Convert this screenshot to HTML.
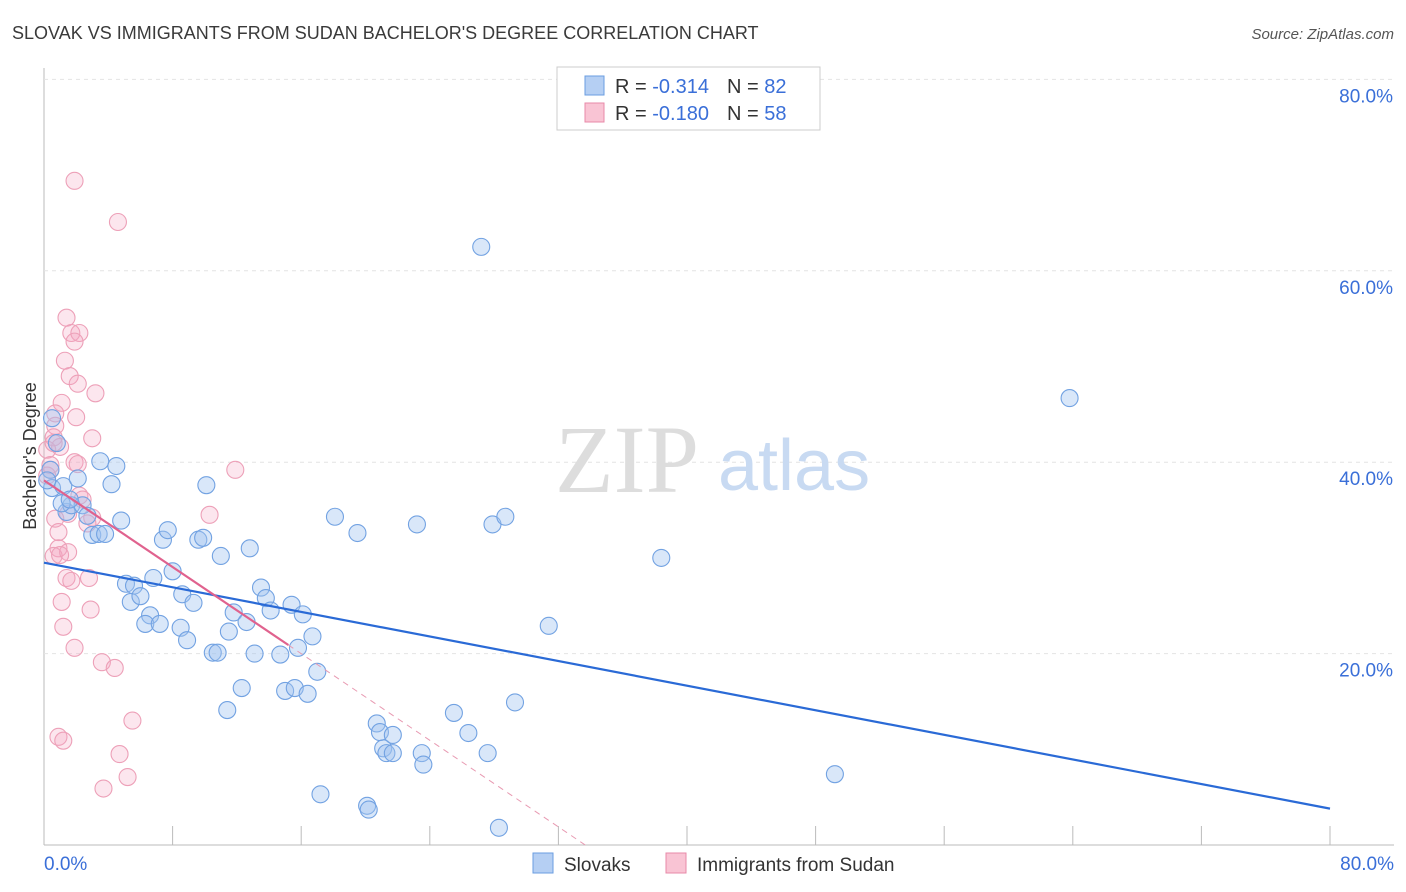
<!DOCTYPE html>
<html><head><meta charset="utf-8"><style>
body{margin:0;background:#fff;font-family:"Liberation Sans",sans-serif}
svg{display:block}
</style></head><body>
<svg id="c" width="1406" height="892">
<text x="12" y="39" font-size="18" fill="#3a3a3a">SLOVAK VS IMMIGRANTS FROM SUDAN BACHELOR'S DEGREE CORRELATION CHART</text>
<text x="1394" y="39" font-size="15" fill="#555" font-style="italic" text-anchor="end">Source: ZipAtlas.com</text>
<text x="36" y="456" font-size="18" fill="#333" transform="rotate(-90 36 456)" text-anchor="middle">Bachelor's Degree</text>
<g id="grid"></g>
<text x="555" y="492" font-size="96" fill="#ddd" font-family="Liberation Serif">ZIP</text>
<text x="718" y="490" font-size="72" fill="#c8daf2">atlas</text>
<g id="pts"></g>
<g id="lines"></g>
<g>
<rect x="557" y="67" width="263" height="63" fill="#fff" stroke="#ccc"/>
<rect x="585" y="76" width="19" height="19" fill="#b5cff3" stroke="#6a9de0"/>
<rect x="585" y="103" width="19" height="19" fill="#f9c4d4" stroke="#e88aa8"/>
<text x="615" y="93" font-size="20" fill="#333">R = <tspan fill="#3a6fd8">-0.314</tspan><tspan dx="18">N = </tspan><tspan fill="#3a6fd8">82</tspan></text>
<text x="615" y="120" font-size="20" fill="#333">R = <tspan fill="#3a6fd8">-0.180</tspan><tspan dx="18">N = </tspan><tspan fill="#3a6fd8">58</tspan></text>
</g>
<g>
<rect x="533" y="853" width="20" height="20" fill="#b5cff3" stroke="#6a9de0"/>
<text x="564" y="871" font-size="19" fill="#333">Slovaks</text>
<rect x="666" y="853" width="20" height="20" fill="#f9c4d4" stroke="#e88aa8"/>
<text x="697" y="871" font-size="19" fill="#333">Immigrants from Sudan</text>
</g>
</svg>
<script>
const blueX=[0.5,0.8,0.4,0.5,1.2,2.1,1.4,1.7,2.4,2.7,3.0,3.4,3.5,4.5,4.2,4.8,3.8,5.1,5.6,5.4,6.0,6.8,6.6,6.3,7.2,7.4,7.7,8.0,8.6,8.5,8.9,9.3,9.6,9.9,10.1,11.0,10.5,10.8,11.5,11.4,11.8,12.3,12.6,12.8,13.1,13.5,13.8,14.1,14.7,15.0,15.4,15.6,16.1,15.8,16.4,16.7,17.0,17.2,18.1,19.5,20.7,20.9,21.1,21.3,21.7,21.7,20.1,20.2,23.2,23.5,23.6,25.5,26.4,27.6,27.9,28.7,28.3,29.3,31.4,27.2,38.4,49.2,63.8,1.1,0.2,1.6];
const blueY=[44.6,42.0,39.2,37.3,37.5,38.3,34.8,35.5,35.5,34.4,32.4,32.5,40.1,39.6,37.7,33.9,32.5,27.3,27.1,25.4,26.0,27.9,24.0,23.1,23.1,31.9,32.9,28.6,26.2,22.7,21.4,25.3,31.9,32.1,37.6,30.2,20.1,20.1,22.3,14.1,24.3,16.4,23.3,31.0,20.0,26.9,25.8,24.5,19.9,16.1,25.1,16.4,24.1,20.6,15.8,21.8,18.1,5.3,34.3,32.6,12.7,11.8,10.1,9.6,11.5,9.6,4.1,3.7,33.5,9.6,8.4,13.8,11.7,9.6,33.5,34.3,1.8,14.9,22.9,62.5,30.0,7.4,46.7,35.7,38.1,36.1];
const pinkX=[1.9,4.6,1.4,1.7,2.2,1.9,1.3,1.6,2.1,3.2,1.1,0.7,2.0,0.7,0.6,3.0,1.0,0.2,1.9,2.1,0.4,0.2,11.9,2.2,2.4,1.5,3.0,10.3,0.7,0.9,2.7,0.9,0.6,1.5,1.0,1.4,1.7,2.8,1.1,2.9,1.2,1.9,3.6,4.4,5.5,0.9,1.2,4.7,5.2,3.7,0.6,0.4];
const pinkY=[69.4,65.1,55.1,53.5,53.5,52.6,50.6,49.0,48.2,47.2,46.2,45.1,44.7,43.8,42.6,42.5,41.6,41.3,40.0,39.8,39.2,38.6,39.2,36.5,36.1,34.6,34.2,34.5,34.1,32.7,33.6,31.0,30.2,30.6,30.3,27.9,27.6,27.9,25.4,24.6,22.8,20.6,19.1,18.5,13.0,11.3,10.9,9.5,7.1,5.9,42.0,39.7];
const blueTrend=[29.5,3.8];
const pinkTrend=[38.1,20.9,15.2];
const yTicks=[20,40,60,80];
const xTickLabels=["0.0%","80.0%"];
const NS="http://www.w3.org/2000/svg";
const X=v=>44+v*16.075, Y=v=>845-v*9.57;
function mk(t,a,p){const e=document.createElementNS(NS,t);for(const k in a)e.setAttribute(k,a[k]);p.appendChild(e);return e;}
const g=document.getElementById('grid');
let ax=mk('line',{x1:44,y1:68,x2:44,y2:845,stroke:'#bbb'},g);


let bx=mk('line',{x1:44,y1:845,x2:1394,y2:845,stroke:'#bbb'},g);


yTicks.forEach(t=>{
 const l=mk('line',{x1:44,x2:1394,y1:Y(t),y2:Y(t),stroke:'#e4e4e4','stroke-dasharray':'4,4'},g);
 
 
 const tx=mk('text',{x:1393,y:Y(t)+23,'font-size':19,fill:'#3a6fd8','text-anchor':'end'},g);
 tx.textContent=t.toFixed(1)+'%';
 
 
});
for(let i=0;i<=10;i++){
 const l=mk('line',{x1:X(i*8),x2:X(i*8),y1:826,y2:845,stroke:'#bbb'},g);
 
 
}
[[0,'start',44],[80,'end',1394]].forEach((d,i)=>{
 const tx=mk('text',{x:d[2],y:870,'font-size':19,fill:'#3a6fd8','text-anchor':d[1]},g);
 tx.textContent=xTickLabels[i];
 
 
});
const p=document.getElementById('pts');
pinkX.forEach((x,i)=>{
 const c=mk('circle',{cx:X(x),cy:Y(pinkY[i]),r:8.5,fill:'rgba(245,165,195,0.28)',stroke:'#eda0b8','stroke-width':1.1},p);
 
 
});
blueX.forEach((x,i)=>{
 const c=mk('circle',{cx:X(x),cy:Y(blueY[i]),r:8.5,fill:'rgba(160,196,240,0.4)',stroke:'#72a2e2','stroke-width':1.1},p);
 
 
});
const L=document.getElementById('lines');
let bl=mk('line',{x1:X(0),y1:Y(blueTrend[0]),x2:X(80),y2:Y(blueTrend[1]),stroke:'#2a6ad6','stroke-width':2.2},L);


const slope=(pinkTrend[1]-pinkTrend[0])/pinkTrend[2];
const x0=-pinkTrend[0]/slope;
let pd=mk('line',{x1:X(pinkTrend[2]),y1:Y(pinkTrend[1]),x2:X(x0),y2:Y(0),stroke:'#e89ab2','stroke-width':1,'stroke-dasharray':'6,5'},L);


let pl=mk('line',{x1:X(0),y1:Y(pinkTrend[0]),x2:X(pinkTrend[2]),y2:Y(pinkTrend[1]),stroke:'#e0628e','stroke-width':2.2},L);


</script>
</body></html>
